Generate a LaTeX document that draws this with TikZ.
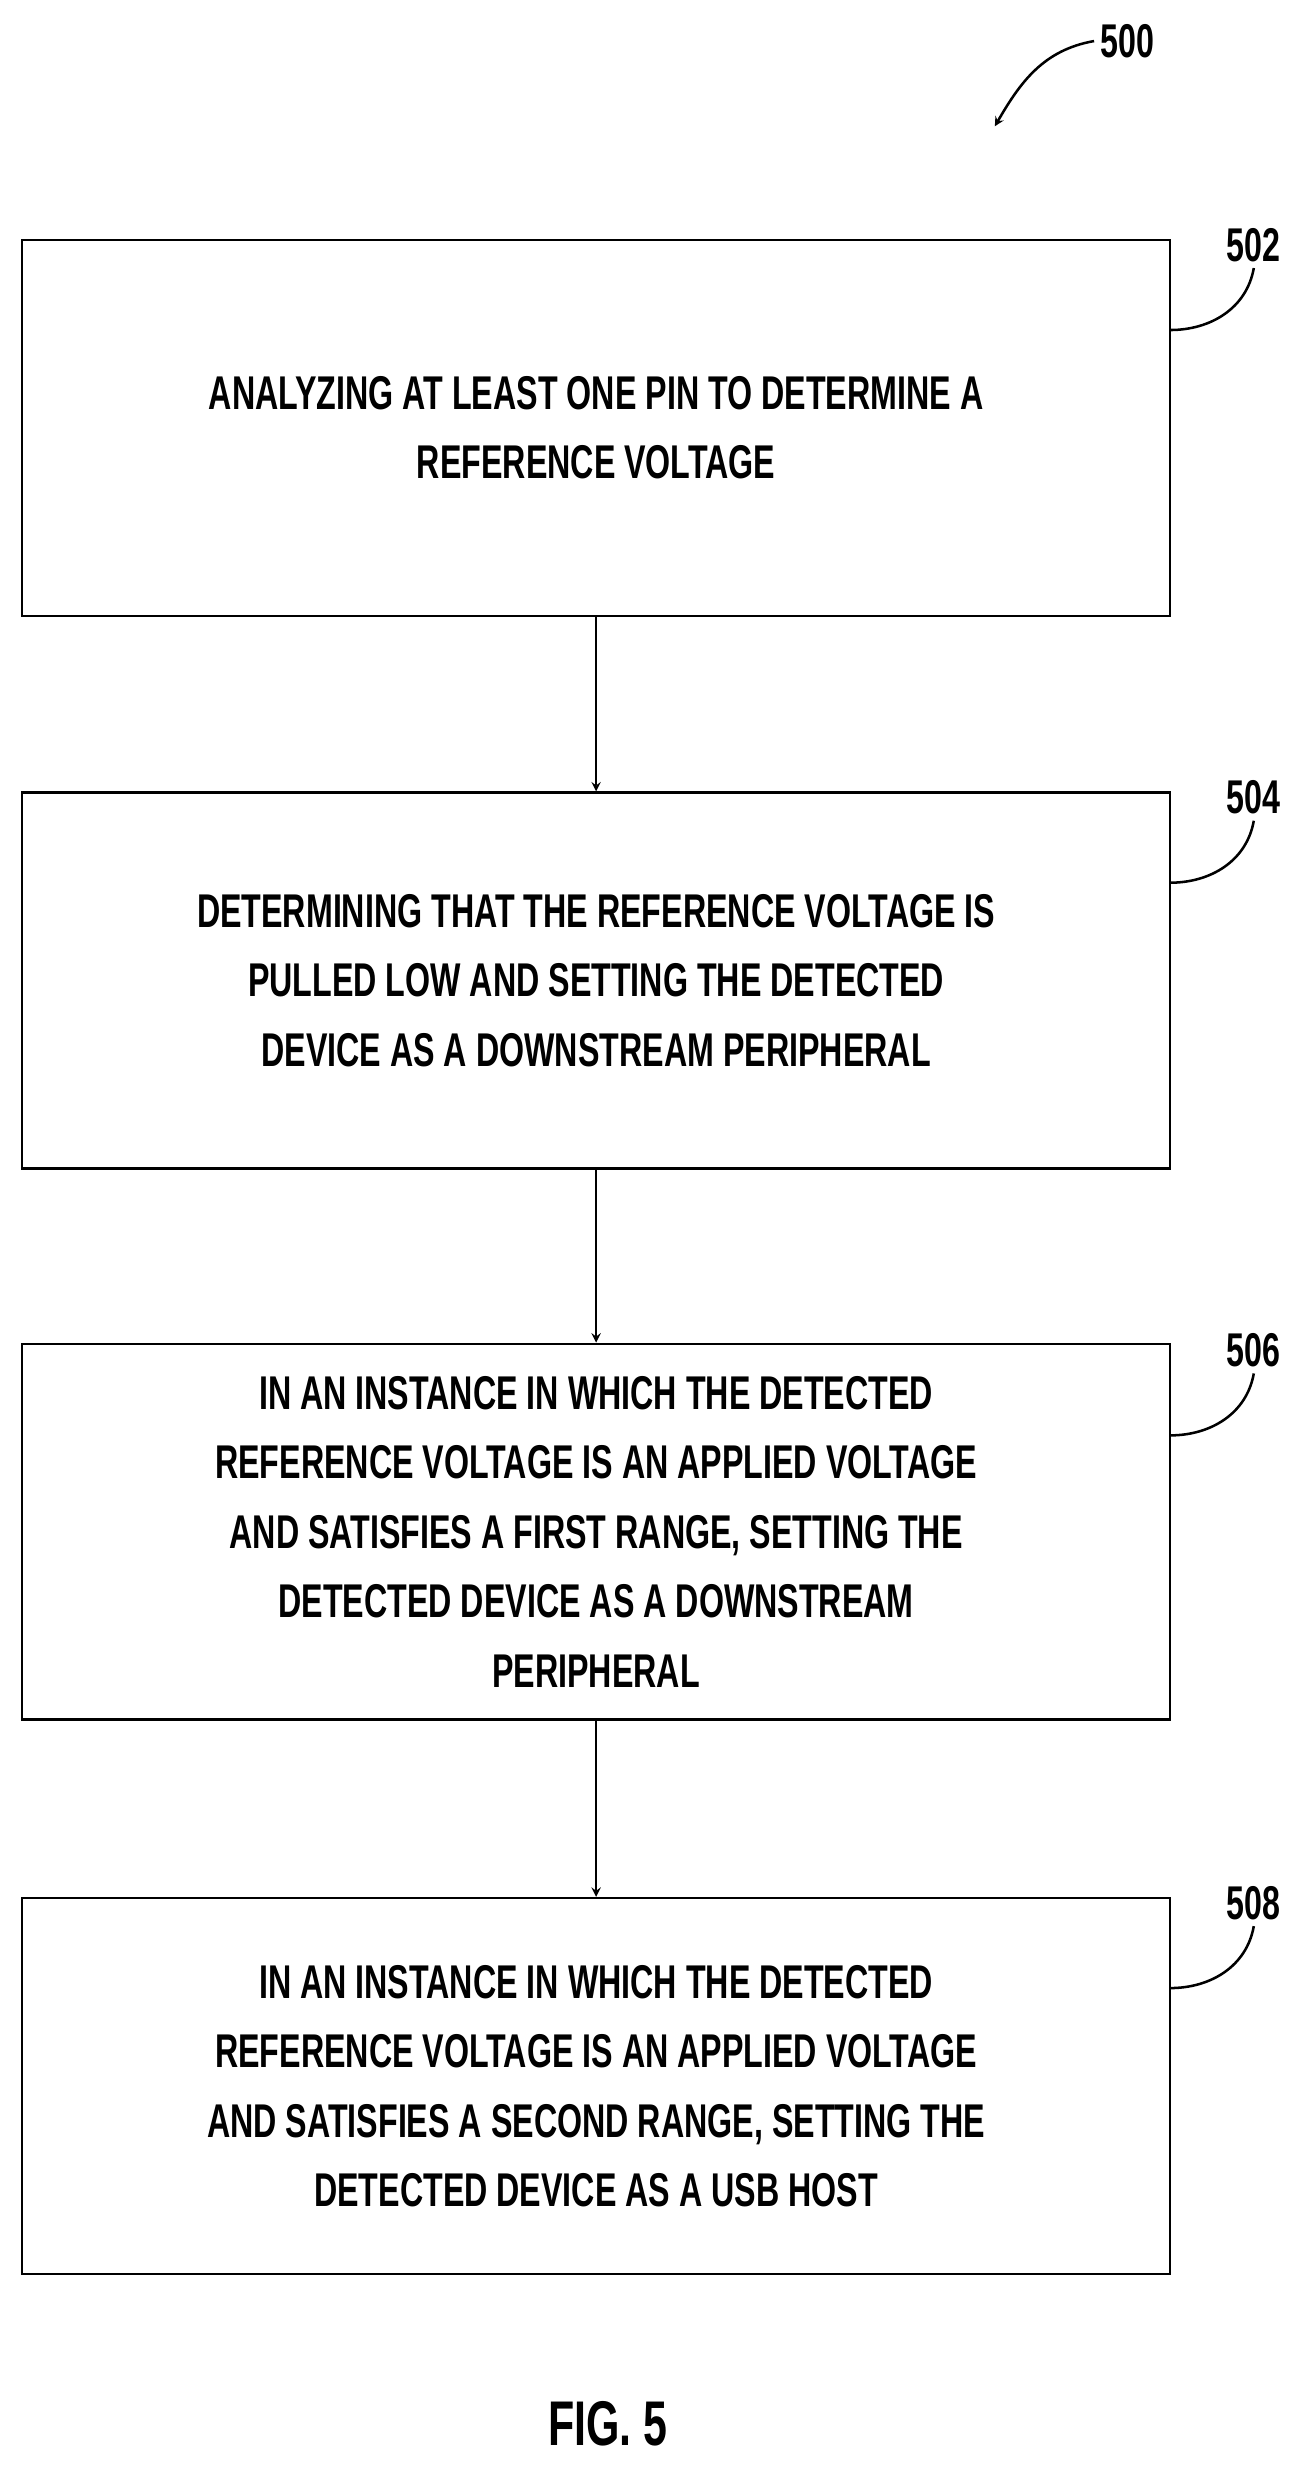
\documentclass[tikz,border=0pt]{standalone}
\usepackage{fontspec}
\setmainfont{Liberation Sans}[FakeStretch=0.68]
\usetikzlibrary{positioning}

\begin{document}
\begin{tikzpicture}[x=1pt, y=-1pt, thick, line width=1.6pt,
    stepbox/.style = {draw, line width=1.6pt, minimum width=727pt, minimum height=238pt, align=center,
      font=\fontsize{30}{44}\selectfont\bfseries},
    tag/.style = {font=\fontsize{30}{32}\selectfont\bfseries}]
    \useasboundingbox (0,0) rectangle (826,1568);
    \node[stepbox] (1) at (377.5,271) {ANALYZING AT LEAST ONE PIN TO DETERMINE A\\REFERENCE VOLTAGE};
    \node[stepbox] (2) at (377.5,621) {DETERMINING THAT THE REFERENCE VOLTAGE IS\\PULLED LOW AND SETTING THE DETECTED\\DEVICE AS A DOWNSTREAM PERIPHERAL};
    \node[stepbox] (3) at (377.5,970) {IN AN INSTANCE IN WHICH THE DETECTED\\REFERENCE VOLTAGE IS AN APPLIED VOLTAGE\\AND SATISFIES A FIRST RANGE, SETTING THE\\DETECTED DEVICE AS A DOWNSTREAM\\PERIPHERAL};
    \node[stepbox] (4) at (377.5,1321) {IN AN INSTANCE IN WHICH THE DETECTED\\REFERENCE VOLTAGE IS AN APPLIED VOLTAGE\\AND SATISFIES A SECOND RANGE, SETTING THE\\DETECTED DEVICE AS A USB HOST};
    \draw[->, >=stealth, line width=1.6pt] (1) -- (2);
    \draw[->, >=stealth, line width=1.6pt] (2) -- (3);
    \draw[->, >=stealth, line width=1.6pt] (3) -- (4);
    % reference numerals
    \node[tag] (n500) at (714,26) {500};
    \coordinate (p500) at (630,80);
    \draw[->, >=stealth, line width=1.6pt] (n500.west) to[out=190, in=60] (p500);
    \foreach \k/\y in {502/155, 504/505, 506/855, 508/1205} {
      \node[tag] (n\k) at (794,\y) {\k};
      \coordinate (c\k) at (741,\y+54);
      \draw[line width=1.6pt] (c\k) to[out=0, in=260] (n\k.south);
    }
    \node[font=\fontsize{40}{44}\selectfont\bfseries] (fig) at (385,1535) {FIG. 5};
\end{tikzpicture}
\end{document}
